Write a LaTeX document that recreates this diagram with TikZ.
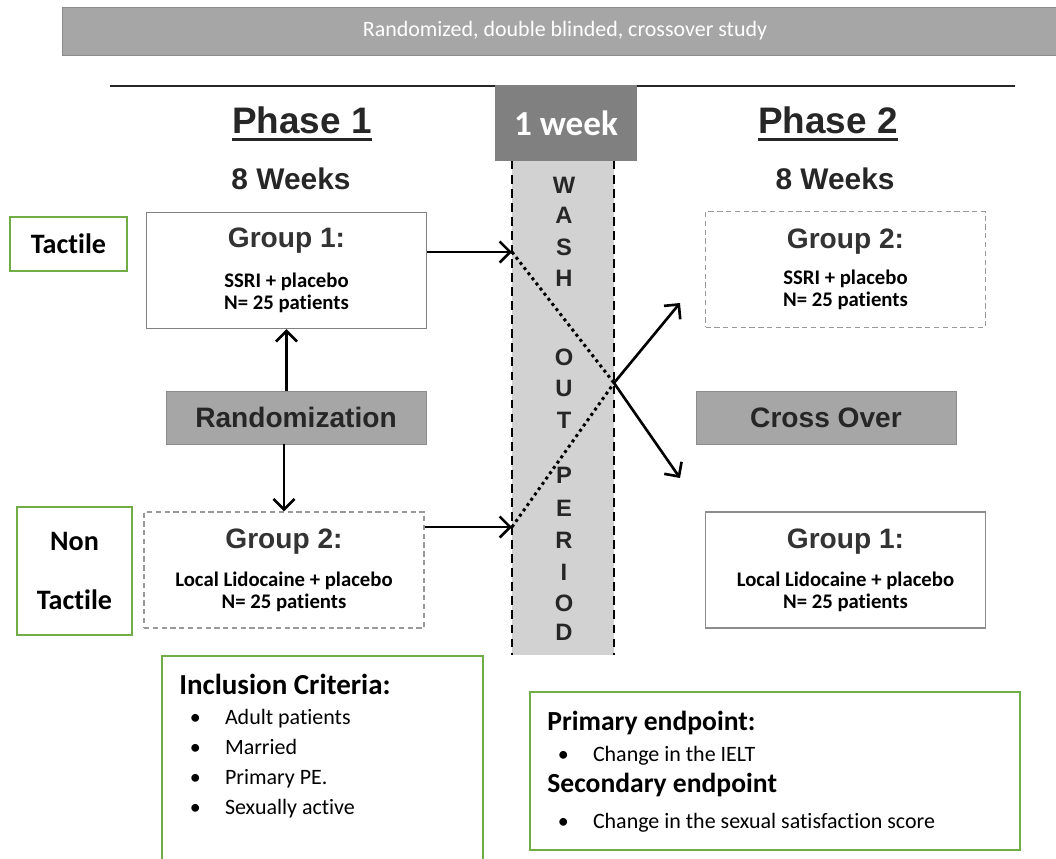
\documentclass[tikz,border=0pt]{standalone}
\usepackage{fontspec}
\setmainfont{Carlito}[Ligatures=NoCommon]
\newfontfamily\arialfont{Liberation Sans}
\usetikzlibrary{arrows.meta}

\newsavebox\ulbox
\newcommand\thickul[1]{\sbox\ulbox{#1}\rlap{\rule[-4.5pt]{\wd\ulbox}{1.7pt}}\usebox\ulbox}
\newcommand\bitem[1]{\hspace*{6pt}\makebox[20pt][l]{\textbullet}#1}
\newcommand\grouphead[1]{{\arialfont\bfseries\fontsize{16}{16}\selectfont\color{black!80}#1}}

\tikzset{
  banner/.style={fill=bannergray, draw=black!45, minimum width=20.12cm, minimum height=0.96cm, text=white, font=\fontsize{12.5}{14}\selectfont},
  weekbox/.style={fill=weekgray, minimum width=2.84cm, minimum height=1.52cm, text=white, font=\bfseries\fontsize{20}{20}\selectfont},
  washband/.style={fill=washgray, minimum width=2.04cm, minimum height=9.88cm, inner sep=0pt},
  washedge/.style={line width=1.3pt, dash pattern=on 5pt off 3pt},
  washletter/.style={font=\arialfont\bfseries\fontsize{13.5}{14}\selectfont, text=black!85},
  phasetitle/.style={font=\arialfont\bfseries\fontsize{21}{21}\selectfont, text=black!85, anchor=base},
  weeks/.style={font=\arialfont\bfseries\fontsize{17}{17}\selectfont, text=black!85, anchor=base},
  groupbox/.style={draw=gray, line width=0.7pt, minimum width=5.6cm, minimum height=2.32cm, align=center, font=\bfseries\fontsize{11.8}{12.5}\selectfont},
  dashbox/.style={groupbox, draw=gray!80, dash pattern=on 3pt off 2pt},
  graybox/.style={fill=bannergray, draw=black!45, minimum width=5.2cm, minimum height=1.06cm, font=\arialfont\bfseries\fontsize{16}{16}\selectfont, text=black!85},
  greenbox/.style={draw=boxgreen, line width=1.1pt, align=center, font=\bfseries\fontsize{16}{18}\selectfont},
  flow/.style={line width=1.5pt, -{Straight Barb[length=6pt,width=12pt]}},
  crossline/.style={line width=1.7pt, dotted}
}

\begin{document}
\begin{tikzpicture}[x=0.02cm, y=-0.02cm]
    % Define colors
    \definecolor{boxgreen}{RGB}{112,173,71}
    \definecolor{bannergray}{RGB}{166,166,166}
    \definecolor{weekgray}{RGB}{128,128,128}
    \definecolor{washgray}{RGB}{210,210,210}

    \useasboundingbox (0,0) rectangle (1056,859);
    \clip (0,0) rectangle (1056,859);

    % Title banner
    \node[banner] (title) at (565,31) {Randomized, double blinded, crossover study};

    % Rule and wash out period
    \draw[line width=1.7pt, black!85] (110,86) -- (1015,86);
    \node[washband] (wash) at (563,408) {};
    \draw[washedge] (wash.north west) -- (wash.south west);
    \draw[washedge] (wash.north east) -- (wash.south east);
    \node[weekbox] (week) at (566,123) {1 week};
    \foreach \ch/\yy in {W/185,A/215,S/247,H/278,O/357,U/388,T/420,P/475,E/508,R/540,I/572,O/603,D/632} {
        \node[washletter] (let\yy) at (564,\yy) {\ch};
    }

    % Phase 1
    \node[phasetitle] (ph1) at (302,133) {\thickul{Phase 1}};
    \node[weeks] (wk1) at (291,189) {8 Weeks};
    \node[groupbox] (g1) at (286.5,270.5) {\grouphead{Group 1:}\\[10pt] SSRI + placebo\\ N= 25 patients};
    \node[graybox] (rand) at (296,417.5) {Randomization};
    \node[dashbox] (g2) at (284,570) {\grouphead{Group 2:}\\[9pt] Local Lidocaine + placebo\\ N= 25 patients};
    \node[greenbox, minimum width=2.34cm, minimum height=1.08cm] (tact) at (68.5,244) {Tactile};
    \node[greenbox, minimum width=2.3cm, minimum height=2.56cm] (ntact) at (74.5,571) {Non\\[16pt] Tactile};

    % Phase 2
    \node[phasetitle] (ph2) at (828,133) {\thickul{Phase 2}};
    \node[weeks] (wk2) at (835,189) {8 Weeks};
    \node[dashbox] (g2b) at (845.5,269.5) {\grouphead{Group 2:}\\[8pt] SSRI + placebo\\ N= 25 patients};
    \node[graybox] (cross) at (826,418) {Cross Over};
    \node[groupbox, draw=gray!90] (g1b) at (845.5,570) {\grouphead{Group 1:}\\[9pt] Local Lidocaine + placebo\\ N= 25 patients};

    % Connectors
    \coordinate (in1) at (512,252);
    \coordinate (in2) at (512,527);
    \coordinate (swap) at (614,383);
    \coordinate (out1) at (680,303);
    \coordinate (out2) at (680,478);
    \draw[flow] (g1.south |- rand.north) -- (g1.south);
    \draw[flow] (g2.north |- rand.south) -- (g2.north);
    \draw[flow] (g1.east |- in1) -- (in1);
    \draw[flow] (g2.east |- in2) -- (in2);
    \draw[crossline] (in1) -- (swap);
    \draw[crossline] (in2) -- (swap);
    \draw[flow] (swap) -- (out1);
    \draw[flow] (swap) -- (out2);

    % Inclusion criteria
    \node[draw=boxgreen, line width=1.1pt, minimum width=6.42cm, minimum height=4.4cm] (incl) at (322.5,766) {};
    \node[anchor=north west, inner sep=0pt, align=left, font=\fontsize{12.5}{17}\selectfont] (incltext) at (179,674) {{\bfseries\fontsize{16.5}{17}\selectfont Inclusion Criteria:}\\ \bitem{Adult patients}\\ \bitem{Married}\\ \bitem{Primary PE.}\\ \bitem{Sexually active}};

    % Endpoints
    \node[draw=boxgreen, line width=1.1pt, minimum width=9.8cm, minimum height=3.16cm] (endp) at (775,771) {};
    \node[anchor=north west, inner sep=0pt, align=left, font=\fontsize{12.5}{17.5}\selectfont] (endptext) at (547,711) {{\bfseries\fontsize{15.7}{17.5}\selectfont Primary endpoint:}\\ \bitem{Change in the IELT}\\ {\bfseries\fontsize{15.7}{17.5}\selectfont Secondary endpoint}\\[3pt] \bitem{Change in the sexual satisfaction score}};
\end{tikzpicture}
\end{document}
